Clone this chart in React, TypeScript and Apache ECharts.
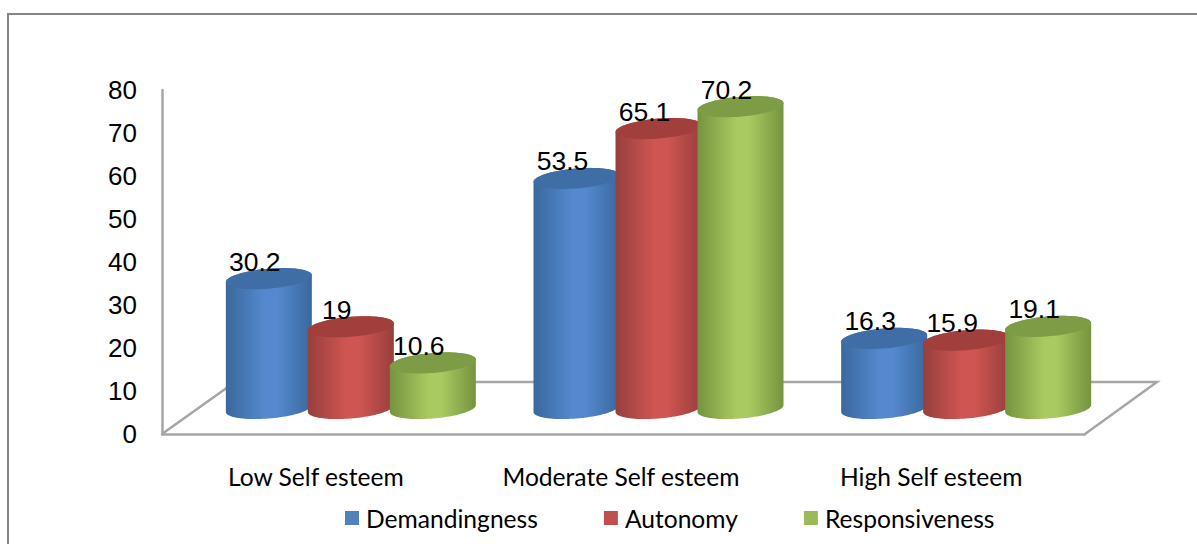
import React, { useEffect, useRef } from "react";
import * as echarts from "echarts";

const categories = ["Low Self esteem", "Moderate Self esteem", "High Self esteem"];
const seriesNames = ["Demandingness", "Autonomy", "Responsiveness"];
const demandingness = [30.2, 53.5, 16.3];
const autonomy = [19, 65.1, 15.9];
const responsiveness = [10.6, 70.2, 19.1];
const yTicks = { min: 0, max: 80, interval: 10 };

const palette = [
  { legend: "#4f81bd", edge: "#39689c", mid: "#5489cf", top: "#3f6ea6" },
  { legend: "#c0504d", edge: "#973f3d", mid: "#cf5552", top: "#a13f3c" },
  { legend: "#9bbb59", edge: "#76933f", mid: "#a8ca60", top: "#7d9c45" },
];

const RX = 43;
const RY = 10;
const SHEAR = -0.08;
const BASE_LIFT = 25.5;
const GROUP_SHIFT = 35;
const STEP = 82;

function ellipsePoints(cx: number, cy: number, from: number, to: number) {
  const pts: number[][] = [];
  const n = 48;
  for (let i = 0; i <= n; i++) {
    const t = from + ((to - from) * i) / n;
    const dx = RX * Math.cos(t);
    pts.push([cx + dx, cy + RY * Math.sin(t) + SHEAR * dx]);
  }
  return pts;
}

function makeSeries(name: string, values: number[], idx: number) {
  const c = palette[idx];
  return {
    type: "custom",
    name,
    coordinateSystem: "cartesian2d",
    clip: false,
    itemStyle: { color: c.legend },
    data: values.map((v, i) => [i, v]),
    encode: { x: 0, y: 1 },
    renderItem: (_p: any, api: any) => {
      const cat = api.value(0);
      const val = api.value(1);
      const top = api.coord([cat, val]);
      const zero = api.coord([cat, 0]);
      const cx = top[0] + GROUP_SHIFT + (idx - 1) * STEP;
      const topY = top[1] - BASE_LIFT;
      const baseY = zero[1] - BASE_LIFT;
      const body = [
        ...ellipsePoints(cx, topY, Math.PI, 2 * Math.PI),
        ...ellipsePoints(cx, baseY, 0, Math.PI),
      ];
      const fill = new echarts.graphic.LinearGradient(0, 0, 1, 0, [
        { offset: 0, color: c.edge },
        { offset: 0.45, color: c.mid },
        { offset: 0.6, color: c.mid },
        { offset: 1, color: c.edge },
      ]);
      return {
        type: "group",
        children: [
          { type: "polygon", shape: { points: body }, style: { fill } },
          {
            type: "polygon",
            shape: { points: ellipsePoints(cx, topY, 0, 2 * Math.PI) },
            style: { fill: c.top },
          },
          {
            type: "text",
            z2: 100,
            style: {
              x: cx - 14,
              y: topY - 17,
              text: String(val),
              align: "center",
              verticalAlign: "middle",
              font: '26.5px "Liberation Sans"',
              fill: "#000",
            },
          },
        ],
      };
    },
  };
}

export default function App() {
  const ref = useRef<HTMLDivElement>(null);
  useEffect(() => {
    const chart = echarts.init(ref.current!, null, { renderer: "svg" });
    const axisLine = { lineStyle: { color: "#a6a6a6", width: 2.5 } };
    chart.setOption({
      animation: false,
      backgroundColor: "#fff",
      graphic: [
        {
          type: "polyline",
          silent: true,
          z: 0,
          shape: { points: [[8, 544], [8, 14], [1197, 14]] },
          style: { stroke: "#868686", lineWidth: 2, fill: "none" },
        },
        {
          type: "polyline",
          silent: true,
          z: 0,
          shape: { points: [[162, 434], [235, 382], [1157, 382], [1085, 434]] },
          style: { stroke: "#a6a6a6", lineWidth: 2.5, fill: "none" },
        },
      ],
      grid: { left: 162, top: 90, width: 923, height: 344, containLabel: false },
      legend: {
        left: 345,
        top: 504,
        padding: 0,
        icon: "rect",
        itemWidth: 14,
        itemHeight: 14,
        itemGap: 66,
        data: seriesNames,
        textStyle: { fontFamily: "Lato", fontSize: 24.6, color: "#000", lineHeight: 28, padding: [0, 0, 0, 2] },
      },
      xAxis: {
        type: "category",
        data: categories,
        axisTick: { show: false },
        axisLine,
        axisLabel: {
          margin: 30,
          formatter: (v: string, i: number) => `{c${i}|${v}}`,
          rich: {
            c0: { fontFamily: "Lato", fontSize: 24.6, color: "#000" },
            c1: { fontFamily: "Lato", fontSize: 24.6, color: "#000", padding: [0, 5, 0, 0] },
            c2: { fontFamily: "Lato", fontSize: 24.6, color: "#000" },
          },
        },
      },
      yAxis: {
        type: "value",
        ...yTicks,
        splitLine: { show: false },
        axisTick: { show: false },
        axisLine: { show: true, ...axisLine },
        axisLabel: { fontFamily: "Liberation Sans", fontSize: 26, color: "#000", margin: 25, padding: [3, 0, 0, 0] },
      },
      series: [
        makeSeries(seriesNames[0], demandingness, 0),
        makeSeries(seriesNames[1], autonomy, 1),
        makeSeries(seriesNames[2], responsiveness, 2),
      ],
    });
    return () => chart.dispose();
  }, []);
  return <div ref={ref} style={{ position: "absolute", left: 0, top: 0, width: 1197, height: 544 }} />;
}
